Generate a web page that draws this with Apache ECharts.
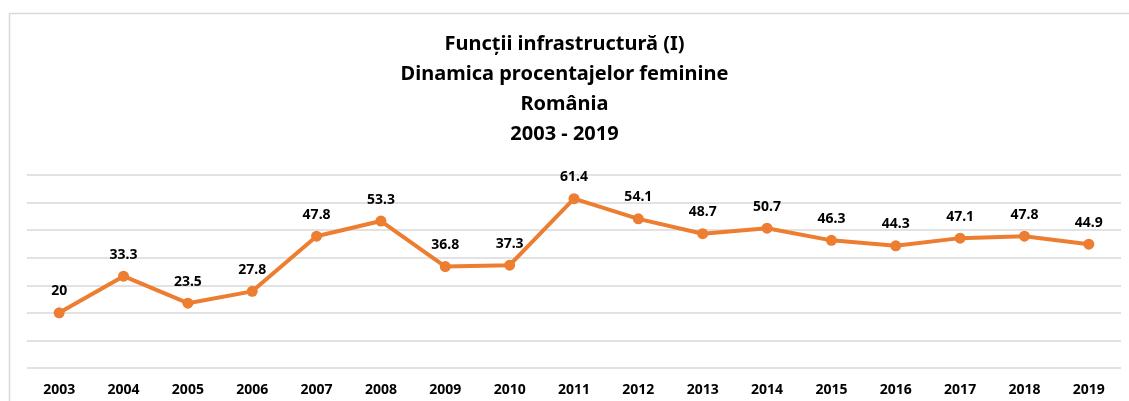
<!DOCTYPE html>
<html>
<head>
<meta charset="utf-8">
<style>
  html, body { margin: 0; padding: 0; background: #fff; }
  #chart { width: 1129px; height: 401px; }
</style>
<script src="https://cdn.jsdelivr.net/npm/echarts@6/dist/echarts.min.js"></script>
</head>
<body>
<div id="chart"></div>
<script>
// Years on the horizontal axis
const years = ['2003', '2004', '2005', '2006', '2007', '2008', '2009', '2010', '2011',
  '2012', '2013', '2014', '2015', '2016', '2017', '2018', '2019'];

// Female share (%) per year
const femaleShare = [20, 33.3, 23.5, 27.8, 47.8, 53.3, 36.8, 37.3, 61.4,
  54.1, 48.7, 50.7, 46.3, 44.3, 47.1, 47.8, 44.9];

const titleLines = ['Funcții infrastructură (I)', 'Dinamica procentajelor feminine', 'România', '2003 - 2019'];

const FONT = '"Noto Sans", "Open Sans", sans-serif';

const chart = echarts.init(document.getElementById('chart'), null, { renderer: 'canvas' });

chart.setOption({
  animation: false,
  backgroundColor: '#ffffff',
  graphic: [{
    type: 'rect',
    left: 7,
    top: 11,
    shape: { width: 1140, height: 400 },
    style: { fill: 'none', stroke: '#d9d9d9', lineWidth: 1.5 },
    silent: true
  }],
  title: {
    text: titleLines.join('\n'),
    left: 'center',
    top: 24,
    textStyle: {
      fontFamily: FONT,
      fontWeight: 'bold',
      fontSize: 20,
      lineHeight: 30,
      color: '#000000'
    }
  },
  grid: { left: 27, right: 8, top: 175, bottom: 33, containLabel: false },
  xAxis: {
    type: 'category',
    data: years,
    boundaryGap: true,
    axisLine: { show: false },
    axisTick: { show: false },
    axisLabel: {
      margin: 15,
      fontFamily: FONT,
      fontWeight: 'bold',
      fontSize: 14,
      color: '#000000'
    }
  },
  yAxis: {
    type: 'value',
    min: 0,
    max: 70,
    interval: 10,
    axisLine: { show: false },
    axisTick: { show: false },
    axisLabel: { show: false },
    splitLine: { lineStyle: { color: '#d9d9d9', width: 1.5 } }
  },
  series: [{
    type: 'line',
    data: femaleShare,
    symbol: 'circle',
    symbolSize: 11,
    lineStyle: { color: '#ED7D31', width: 4 },
    itemStyle: { color: '#ED7D31' },
    label: {
      show: true,
      position: 'top',
      distance: 9,
      fontFamily: FONT,
      fontWeight: 'bold',
      fontSize: 14,
      color: '#000000'
    }
  }]
});
</script>
</body>
</html>
